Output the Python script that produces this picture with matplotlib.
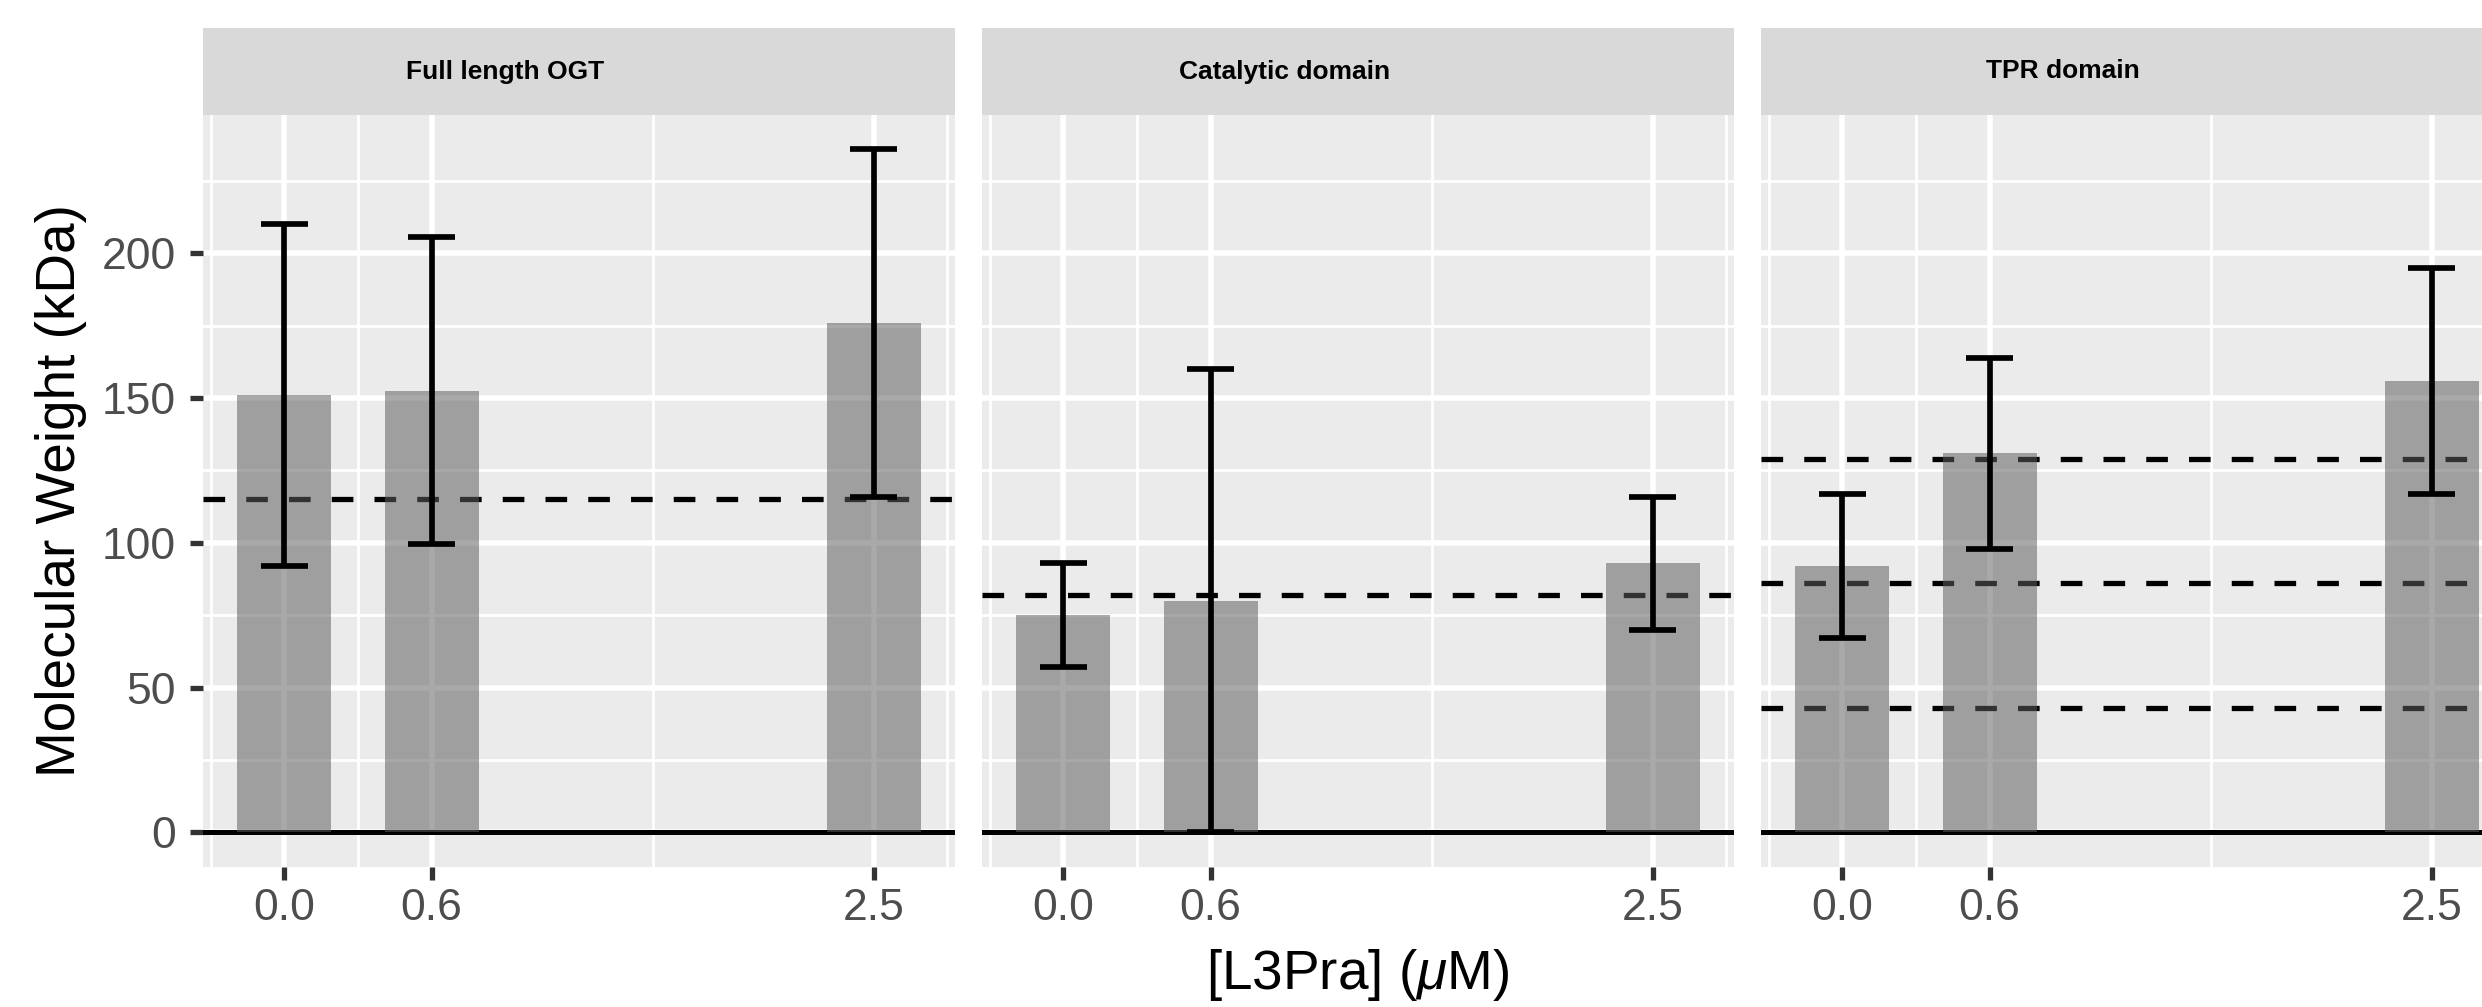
import matplotlib
matplotlib.use("Agg")
import matplotlib.pyplot as plt
import numpy as np

# ---------------- data ----------------
panels = ["Full length OGT", "Catalytic domain", "TPR domain"]
conc = [0.0, 0.625, 2.5]                 # [L3Pra] (uM)
conc_labels = ["0.0", "0.6", "2.5"]
mw_full = [151, 152.5, 176]
sd_full = [59, 53, 60]
mw_cat = [75, 80, 93]
sd_cat = [18, 80, 23]
mw_tpr = [92, 131, 156]
sd_tpr = [25, 33, 39]
ref_full = [115]
ref_cat = [82]
ref_tpr = [129, 86, 43]
y_breaks = [0, 50, 100, 150, 200]
y_minor = [25, 75, 125, 175, 225]

means = [mw_full, mw_cat, mw_tpr]
sds = [sd_full, sd_cat, sd_tpr]
refs = [ref_full, ref_cat, ref_tpr]

# ---------------- style ----------------
plt.rcParams['font.family'] = ['Liberation Sans', 'DejaVu Sans']
plt.rcParams['mathtext.fontset'] = 'custom'
plt.rcParams['mathtext.it'] = 'Liberation Sans:italic'
plt.rcParams['mathtext.rm'] = 'Liberation Sans'

W, H = 2482, 1007
fig = plt.figure(figsize=(W / 100, H / 100), dpi=100)

panel_left_px = [203, 982, 1761]
panel_w_px = 752
top_px, bot_px = 115, 866.5
strip_top_px = 28

bar_w = 0.4
cap_w = 0.2
xlo = min(conc) - bar_w / 2
xhi = max(conc) + bar_w / 2
xpad = 0.05 * (xhi - xlo)
ytop = max(max(np.array(m) + np.array(s)) for m, s in zip(means, sds))
ypad = 0.05 * ytop

b = np.array(conc)
h = (b[1] - b[0]) / 2
x_minor = list((b[:-1] + b[1:]) / 2) + [b[0] - h, b[-1] + h]

bg = '#EBEBEB'
for i, name in enumerate(panels):
    l = panel_left_px[i] / W
    ax = fig.add_axes([l, (H - bot_px) / H, panel_w_px / W, (bot_px - top_px) / H])
    ax.set_facecolor(bg)
    for s in ax.spines.values():
        s.set_visible(False)
    ax.set_xlim(xlo - xpad, xhi + xpad)
    ax.set_ylim(-ypad, ytop + ypad)
    ax.set_xticks(conc)
    ax.set_xticklabels(conc_labels)
    ax.set_xticks(x_minor, minor=True)
    ax.set_yticks(y_breaks)
    ax.set_yticks(y_minor, minor=True)
    ax.grid(True, which='major', color='white', linewidth=4.0)
    ax.grid(True, which='minor', color='white', linewidth=2.0)
    ax.set_axisbelow(True)
    ax.tick_params(which='minor', length=0)
    ax.tick_params(which='major', length=9.4, width=3.8, color='#333333',
                   labelsize=32, labelcolor='#4D4D4D')
    ax.tick_params(axis='x', pad=6)
    ax.tick_params(axis='y', pad=10)
    if i > 0:
        ax.tick_params(axis='y', left=False, labelleft=False)

    # reference lines (under bars)
    ax.axhline(0, color='black', linewidth=3.6, zorder=1.5)
    for r in refs[i]:
        ax.axhline(r, color='black', linewidth=3.8, linestyle=(0, (4.1, 4.0)),
                   zorder=1.5)
    # bars
    ax.bar(conc, means[i], width=bar_w, color='#5F5F5F', alpha=0.536,
           linewidth=0, zorder=2)
    # error bars
    m = np.array(means[i], dtype=float)
    s = np.array(sds[i], dtype=float)
    lo, hi = m - s, m + s
    ax.vlines(conc, lo, hi, color='black', linewidth=4.1, zorder=3)
    for xv, a, c in zip(conc, lo, hi):
        ax.hlines([a, c], xv - cap_w / 2, xv + cap_w / 2, color='black',
                  linewidth=4.1, zorder=3)

    # strip
    sax = fig.add_axes([l, (H - top_px) / H, panel_w_px / W,
                        (top_px - strip_top_px) / H])
    sax.set_facecolor('#D9D9D9')
    sax.set_xticks([])
    sax.set_yticks([])
    for sp in sax.spines.values():
        sp.set_visible(False)
    sax.text(0.402, 0.5, name, transform=sax.transAxes, ha='center',
             va='center', fontsize=19, fontweight='bold', color='black')

# axis titles
center_x = (panel_left_px[0] + panel_left_px[-1] + panel_w_px) / 2 / W
fig.text(center_x, (H - 989) / H, r'[L3Pra] ($\mu$M)', ha='center',
         va='baseline', fontsize=39.5, color='black')
fig.text(61 / W, (H - (top_px + bot_px) / 2) / H, 'Molecular Weight (kDa)',
         rotation=90, ha='center', va='center', fontsize=39.5, color='black')

fig.savefig('out.png', dpi=100, facecolor='white')
